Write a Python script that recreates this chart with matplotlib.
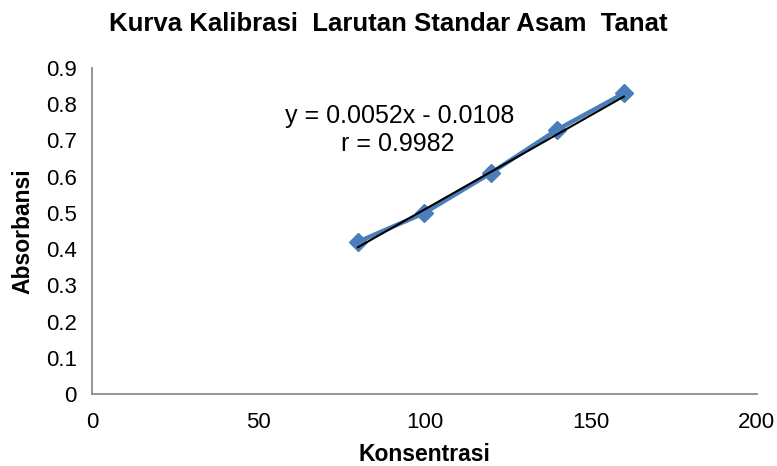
import matplotlib
matplotlib.use("Agg")
import matplotlib.pyplot as plt
import numpy as np

konsentrasi = [80, 100, 120, 140, 160]
absorbansi = [0.42, 0.50, 0.61, 0.73, 0.83]
slope = 0.0052
intercept = -0.0108
eq_text = "y = 0.0052x - 0.0108"
r_text = "r = 0.9982"
title = "Kurva Kalibrasi  Larutan Standar Asam  Tanat"
xticks = [0, 50, 100, 150, 200]
yticks = [0, 0.1, 0.2, 0.3, 0.4, 0.5, 0.6, 0.7, 0.8, 0.9]

plt.rcParams['font.family'] = ['Liberation Sans', 'DejaVu Sans']

fig = plt.figure(figsize=(7.77, 4.66), dpi=100)
ax = fig.add_axes([0.1184, 0.1545, 0.8556, 0.6995])

ax.plot(konsentrasi, absorbansi, color='#4a7ebb', lw=3.2, marker='D',
        markersize=9.5, markeredgecolor='#4a7ebb', zorder=2)
xt = np.array([konsentrasi[0], konsentrasi[-1]])
ax.plot(xt, slope * xt + intercept, color='black', lw=1.5, zorder=3)

ax.set_xlim(0, 200)
ax.set_ylim(0, 0.9)
ax.set_xticks(xticks)
ax.set_xticklabels([str(v) for v in xticks])
ax.set_yticks(yticks)
ax.set_yticklabels(['0' if v == 0 else f"{v:.1f}" for v in yticks])
ax.tick_params(length=0, labelsize=16, colors='black')
ax.tick_params(axis='y', pad=11)
ax.tick_params(axis='x', pad=13)
for s in ['top', 'right']:
    ax.spines[s].set_visible(False)
for s in ['left', 'bottom']:
    ax.spines[s].set_color('#8c8c8c')
    ax.spines[s].set_linewidth(1.3)

ax.set_xlabel("Konsentrasi", fontsize=16.5, fontweight='bold', labelpad=7)
ax.set_ylabel("Absorbansi", fontsize=16.5, fontweight='bold', labelpad=8)
fig.suptitle(title, fontsize=18.5, fontweight='bold', y=0.975)

ax.text(92.6, 0.7675, eq_text, fontsize=18, ha='center', va='center')
ax.text(92.0, 0.690, r_text, fontsize=18, ha='center', va='center')

fig.savefig("out.png", dpi=100)
